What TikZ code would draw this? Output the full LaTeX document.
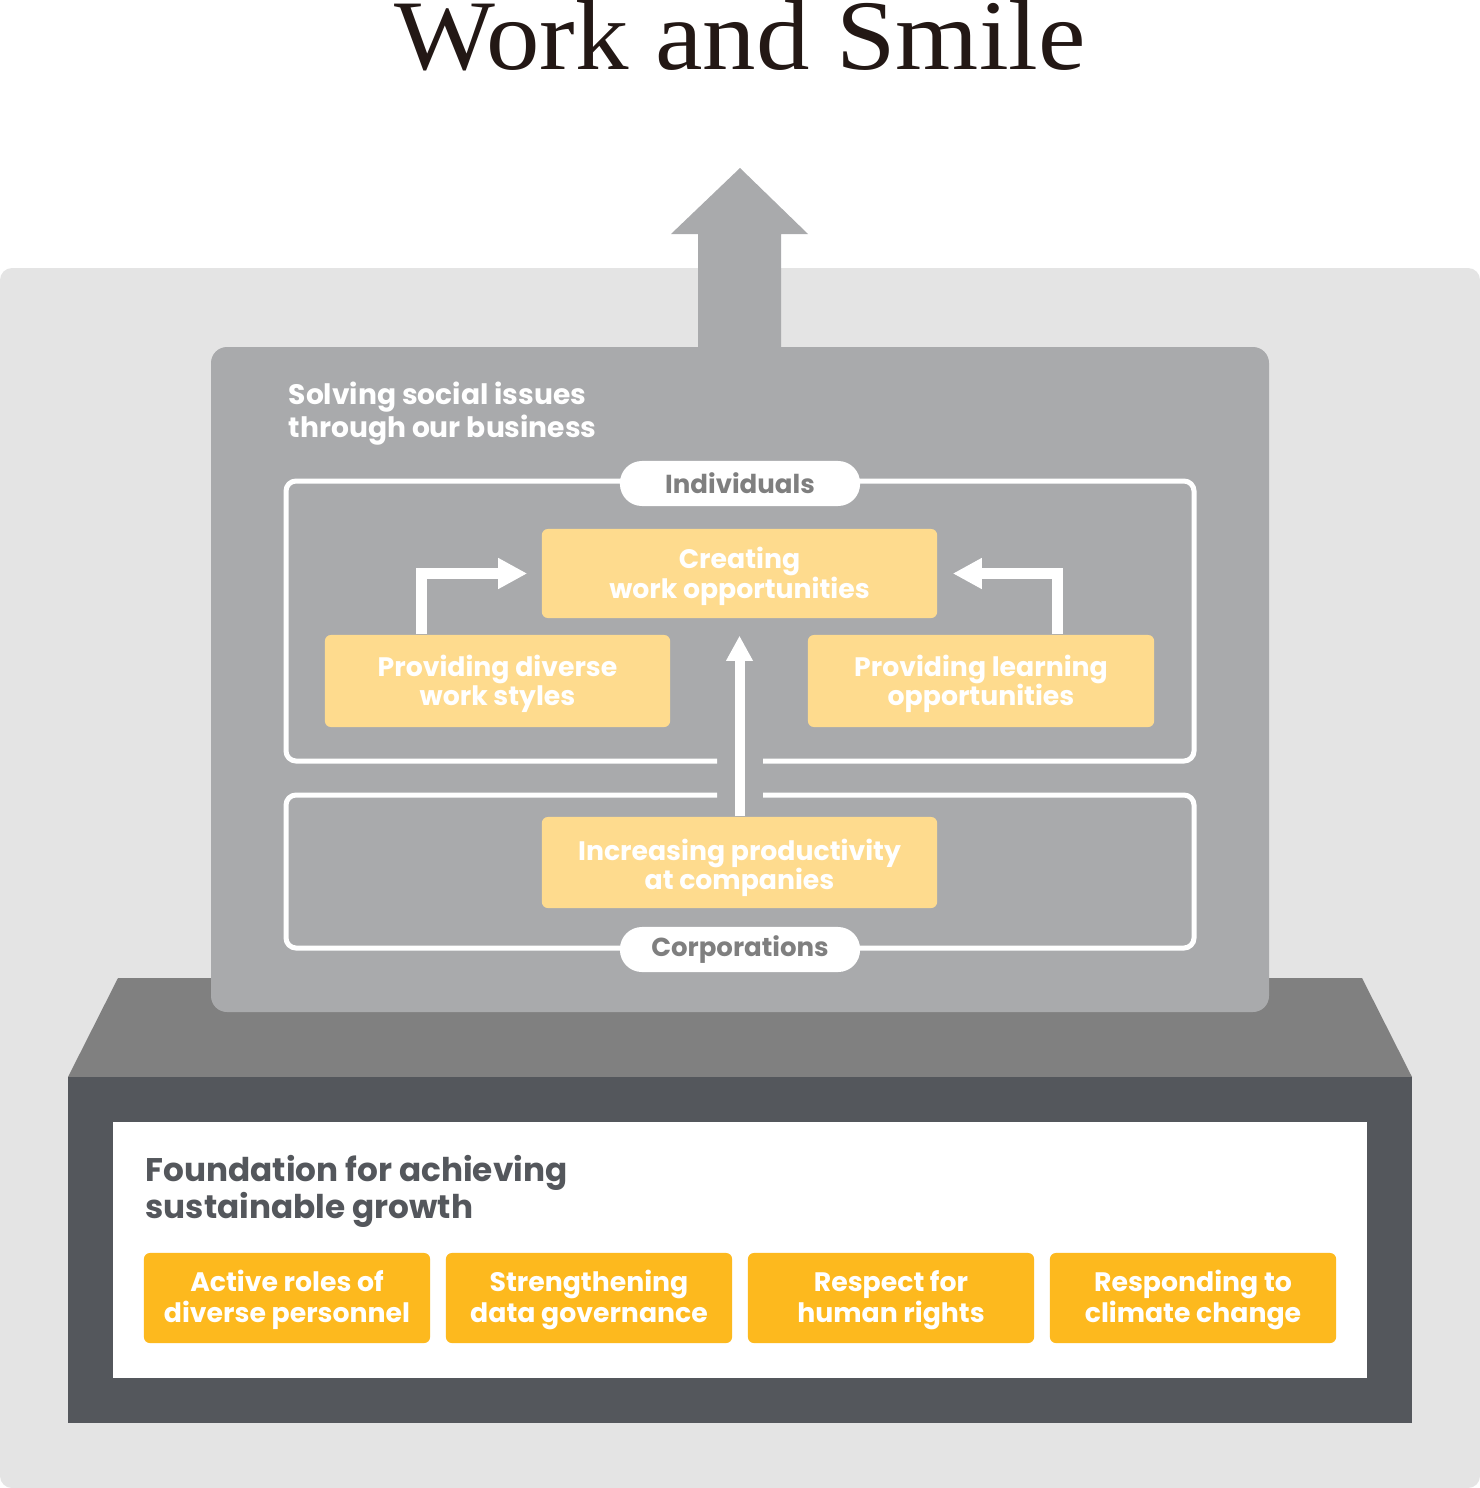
\documentclass[tikz,border=0pt]{standalone}
\usepackage{fontspec}
\setmainfont{Poppins}
\newfontfamily\titlefont{Liberation Serif}
\usetikzlibrary{arrows.meta,calc}
\definecolor{bgl}{HTML}{E4E4E4}
\definecolor{panelc}{HTML}{A9AAAC}
\definecolor{pedtop}{HTML}{808080}
\definecolor{pedc}{HTML}{54575C}
\definecolor{lyel}{HTML}{FEDB8E}
\definecolor{dyel}{HTML}{FDB91E}
\definecolor{pilltxt}{HTML}{7F7F7F}
\definecolor{titlec}{HTML}{231815}
\tikzset{
  lightbox/.style={fill=lyel, rounded corners=0.06cm, text=white, align=center, inner sep=0pt,
    text height=14.2pt, text depth=0pt,
    font=\bfseries\fontsize{7.6}{8.5}\selectfont},
  darkbox/.style={fill=dyel, rounded corners=0.06cm, text=white, align=center, inner sep=0pt,
    text height=13.7pt, text depth=0pt,
    minimum width=2.86cm, minimum height=0.9cm, font=\bfseries\fontsize{7.6}{8.8}\selectfont},
  pill/.style={fill=white, rounded corners=0.22cm, minimum width=2.4cm, minimum height=0.45cm,
    inner sep=0pt, text=pilltxt, font=\bfseries\fontsize{7.4}{8}\selectfont},
  frameline/.style={draw=white, line width=0.05cm, rounded corners=0.1cm},
  flow/.style={draw=white, line width=0.11cm, -{Triangle[length=0.29cm,width=0.29cm]}},
}
\begin{document}
\begin{tikzpicture}[x=0.01cm,y=-0.01cm]
\useasboundingbox (0,0) rectangle (1480,1488);
% background
\fill[bgl, rounded corners=0.12cm] (0,268) rectangle (1480,1488);
% title
\node[anchor=base, text=titlec, font=\titlefont\fontsize{28.4}{30}\selectfont, inner sep=0pt] (title) at (740,70) {\scalebox{1.07}[1]{Work and Smile}};
% big arrow
\fill[panelc] (698,360) -- (698,234) -- (671,234) -- (740,168) -- (808,234) -- (781,234) -- (781,360) -- cycle;
% pedestal top
\fill[pedtop] (118,978) -- (1362,978) -- (1412,1077) -- (68,1077) -- cycle;
% panel
\fill[panelc, rounded corners=0.16cm] (211,347) rectangle (1269,1012);
\node[anchor=base west, align=left, text=white, inner sep=0pt, font=\bfseries\fontsize{8}{9.2}\selectfont] (solve) at (288,437) {Solving social issues\\through our business};
% frames
\draw[frameline] (717,761) -- (286,761) -- (286,481) -- (1194,481) -- (1194,761) -- (763,761);
\draw[frameline] (717,795) -- (286,795) -- (286,948) -- (1194,948) -- (1194,795) -- (763,795);
\node[pill] (indiv) at (740,483.5) {Individuals};
\node[pill] (corp) at (740,949.5) {Corporations};
% light boxes
\node[lightbox, minimum width=3.95cm, minimum height=0.89cm] (create) at (739.5,573.5) {Creating\\work opportunities};
\node[lightbox, minimum width=3.45cm, minimum height=0.92cm] (div) at (497.5,681) {Providing diverse\\work styles};
\node[lightbox, minimum width=3.46cm, minimum height=0.92cm] (learn) at (981,681) {Providing learning\\opportunities};
\node[lightbox, text height=15.6pt, minimum width=3.95cm, minimum height=0.91cm] (prod) at (739.5,862.5) {Increasing productivity\\at companies};
% arrows
\draw[flow] ($(div.north west)+(97,0)$) |- ($(create.west)+(-14,0)$);
\draw[flow] ($(learn.north west)+(250,0)$) |- ($(create.east)+(15,0)$);
\draw[flow, line width=0.1cm, -{Triangle[length=0.25cm,width=0.25cm]}] (prod.north) -- ($(create.south)+(0,17)$);
% pedestal
\fill[pedc] (68,1077) rectangle (1412,1423);
\fill[white] (113,1122) rectangle (1367,1378);
\node[anchor=base west, align=left, text=pedc, inner sep=0pt, font=\bfseries\fontsize{9.3}{10.3}\selectfont] (found) at (145,1218) {Foundation for achieving\\sustainable growth};
\node[darkbox] (b1) at (287,1298) {Active roles of\\diverse personnel};
\node[darkbox] (b2) at (589,1298) {Strengthening\\data governance};
\node[darkbox] (b3) at (891,1298) {Respect for\\human rights};
\node[darkbox] (b4) at (1193,1298) {Responding to\\climate change};
\end{tikzpicture}
\end{document}
